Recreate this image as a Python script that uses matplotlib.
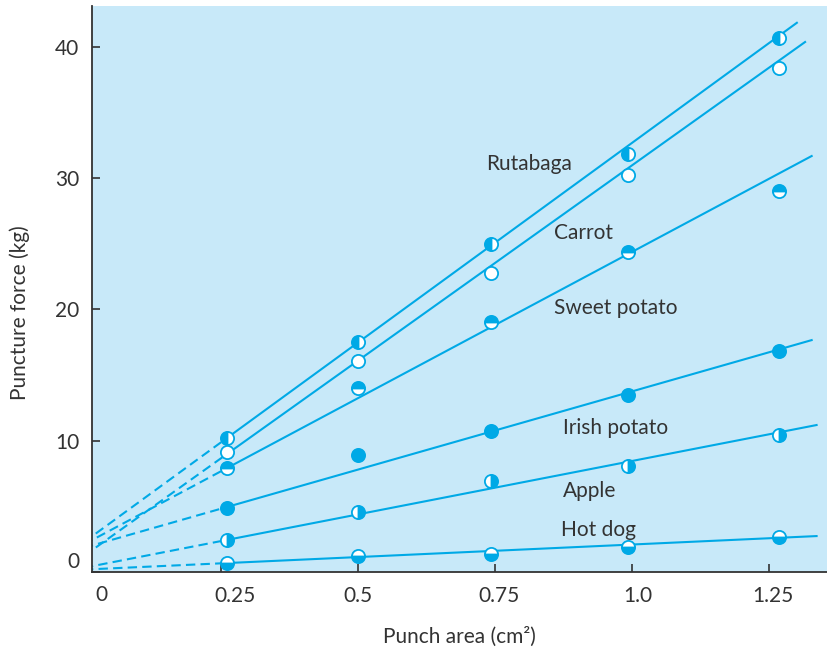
import numpy as np
import matplotlib
matplotlib.use("Agg")
import matplotlib.pyplot as plt
import matplotlib.transforms as mtransforms

# data
area = [0.261, 0.5, 0.743, 0.993, 1.268]   # punch area (cm2)
rutabaga = [10.2, 17.5, 25.0, 31.8, 40.7]
carrot = [9.1, 16.1, 22.8, 30.2, 38.4]
sweet_potato = [7.9, 14.0, 19.0, 24.4, 29.0]
irish_potato = [4.9, 8.9, 10.7, 13.5, 16.8]
apple = [2.4, 4.6, 6.9, 8.1, 10.4]
hot_dog = [0.7, 1.2, 1.4, 1.9, 2.7]

# fitted lines as drawn: intercept, slope, end of line
fit_intercept = [2.27, 1.22, 2.10, 1.84, 0.32, 0.18]
fit_slope = [30.4, 29.74, 22.27, 11.91, 8.13, 1.91]
fit_end = [1.301, 1.316, 1.328, 1.328, 1.337, 1.337]

names = ["Rutabaga", "Carrot", "Sweet potato", "Irish potato", "Apple", "Hot dog"]
label_x = [0.734, 0.858, 0.858, 0.874, 0.874, 0.870]
label_y = [31.1, 25.8, 20.1, 11.0, 6.2, 3.2]
fills = ["left", "none", "top", "full", "right", "bottom"]

x_ticks = [0.25, 0.5, 0.75, 1.0, 1.25]
x_ticklabels = ["0.25", "0.5", "0.75", "1.0", "1.25"]
y_ticks = [0, 10, 20, 30, 40]

cyan = "#00a9e6"
bg = "#c8e9f9"
dark = "#333333"
fsz = 15

plt.rcParams["font.family"] = ["Lato", "DejaVu Sans"]

fig = plt.figure(figsize=(8.27, 6.51), dpi=100)
ax = fig.add_axes([0.1112, 0.1214, 0.8888, 0.8694])
ax.set_facecolor(bg)

series = [rutabaga, carrot, sweet_potato, irish_potato, apple, hot_dog]
x0 = area[0]
for vals, b, m, xe, fs, name, lx, ly in zip(series, fit_intercept, fit_slope, fit_end,
                                              fills, names, label_x, label_y):
    xs = np.array([x0, xe])
    ax.plot(xs, b + m * xs, color=cyan, lw=1.5, zorder=2)
    xd = np.array([0.0, x0])
    ax.plot(xd, b + m * xd, color=cyan, lw=1.5, dashes=(4.5, 2.5), zorder=2)
    if fs == "none":
        ax.plot(area, vals, "o", ms=9.5, mec=cyan, mfc="white", mew=1.3, zorder=3)
    else:
        ax.plot(area, vals, "o", ms=9.5, mec=cyan, mfc=cyan, mfcalt="white",
                fillstyle=fs, mew=1.3, zorder=3)
    ax.text(lx, ly, name, fontsize=fsz, color=dark, va="center", ha="left")

ax.set_xlim(0.0146, 1.356)
ax.set_ylim(0, 43.1)

ax.set_xticks(x_ticks)
ax.set_xticklabels(x_ticklabels)
ax.set_yticks(y_ticks)
ax.tick_params(direction="in", length=6, width=1.2, color=dark, labelcolor=dark,
               labelsize=fsz)
ax.tick_params(axis="x", pad=10)
ax.tick_params(axis="y", pad=9)

for s in ["top", "right"]:
    ax.spines[s].set_visible(False)
for s in ["left", "bottom"]:
    ax.spines[s].set_color(dark)
    ax.spines[s].set_linewidth(1.3)

# "0" labels sit off the corner like in the original
fig.canvas.draw()
ylab0 = ax.get_yticklabels()[0]
ylab0.set_transform(ylab0.get_transform() +
                    mtransforms.ScaledTranslation(0, 12 / 100, fig.dpi_scale_trans))
for lab, dx in zip(ax.get_xticklabels(), [14, 0, 4, 6, 4]):
    lab.set_transform(lab.get_transform() +
                      mtransforms.ScaledTranslation(dx / 100, 0, fig.dpi_scale_trans))
ax.text(0.0316, -0.041, "0", transform=ax.get_xaxis_transform(), ha="center", va="center",
        fontsize=fsz, color=dark)

ax.set_xlabel("Punch area (cm²)", fontsize=fsz, color=dark, labelpad=15)
ax.set_ylabel("Puncture force (kg)", fontsize=fsz, color=dark)
ax.yaxis.set_label_coords(-0.084, 0.459)

fig.savefig("out.png", dpi=100)
